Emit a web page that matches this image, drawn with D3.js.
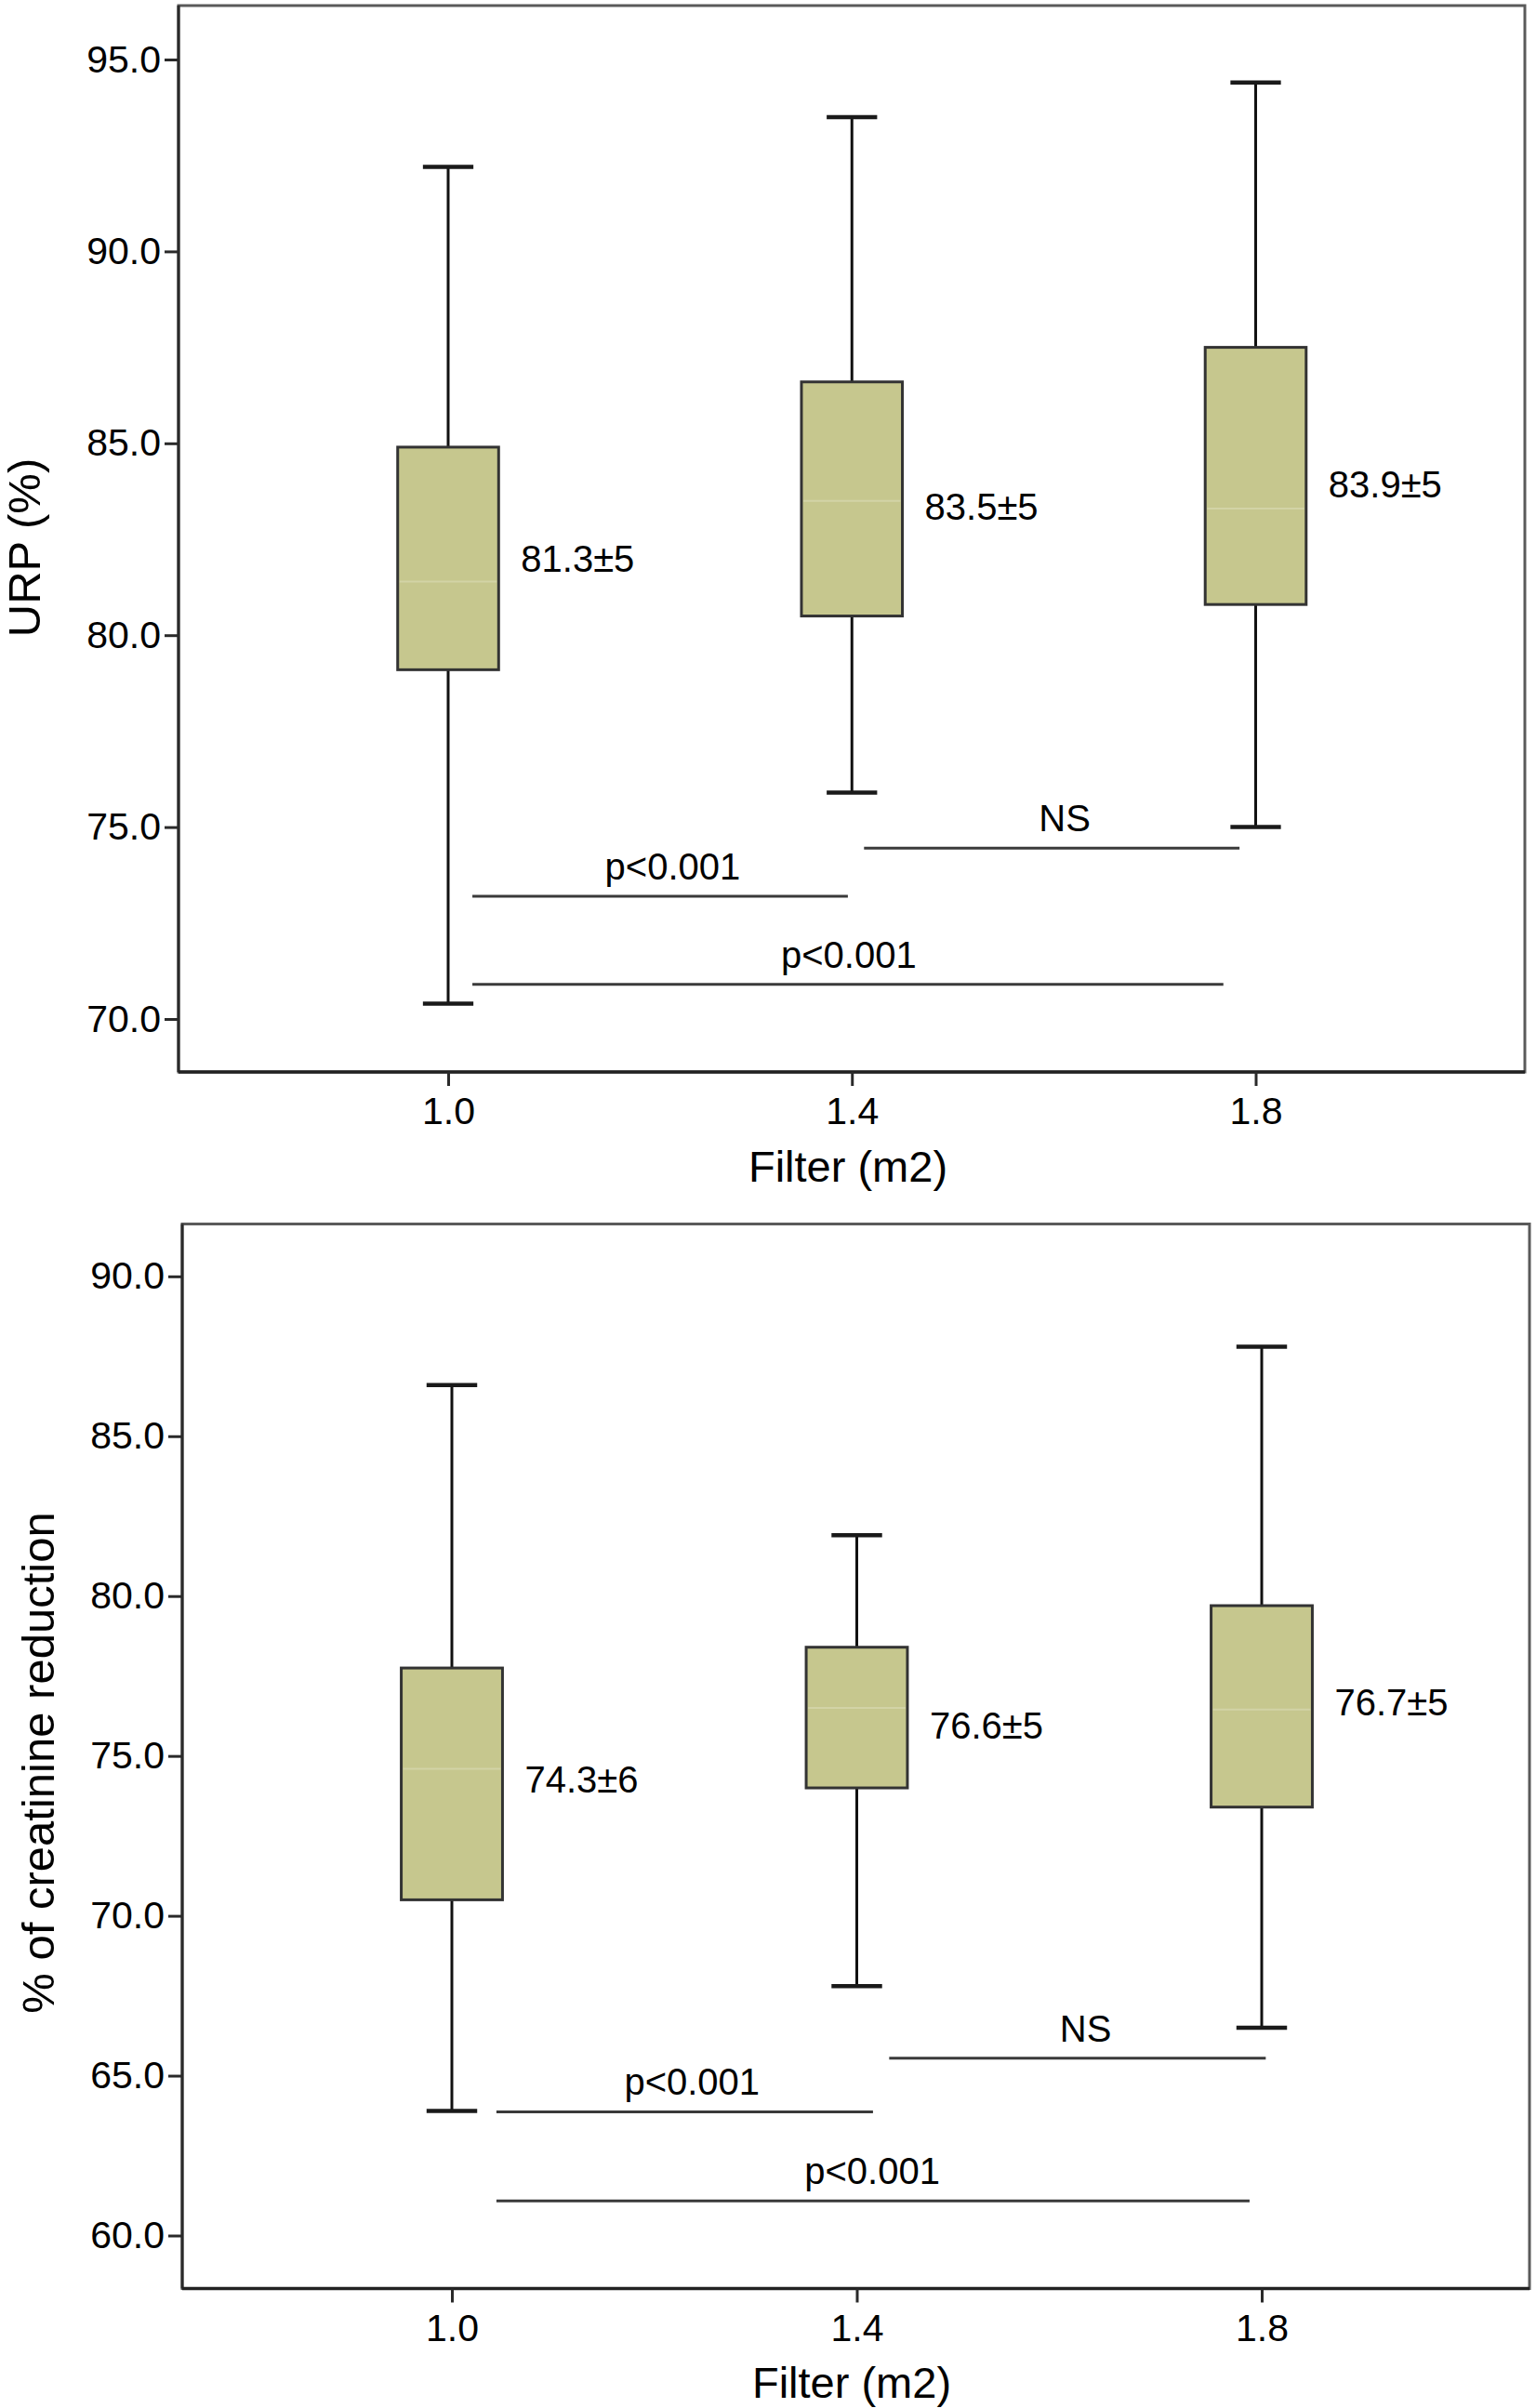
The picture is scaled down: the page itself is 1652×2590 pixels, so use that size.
<!DOCTYPE html>
<html>
<head>
<meta charset="utf-8">
<script src="https://cdn.jsdelivr.net/npm/d3@7/dist/d3.min.js"></script>
<style>
  body { margin: 0; background: #fff; }
  text { font-family: "Liberation Sans", Arial, sans-serif; fill: #000; }
</style>
</head>
<body>
<div id="main"></div>
<script>
// Categories shared by both panels (filter surface)
var filters = ["1.0", "1.4", "1.8"];

// Panel 1: URP (%)
var urpLow = [70.4, 75.9, 75.0];
var urpQ1 = [79.1, 80.5, 80.8];
var urpMedian = [81.4, 83.5, 83.3];
var urpQ3 = [84.9, 86.6, 87.5];
var urpHigh = [92.2, 93.5, 94.4];
var urpLabels = ["81.3\u00b15", "83.5\u00b15", "83.9\u00b15"];
var urpLabelAt = [82.0, 83.35, 83.95];
var urpTicks = [70, 75, 80, 85, 90, 95];
var urpCompFrom = [0.06, 1.03, 0.06];
var urpCompTo = [0.99, 1.96, 1.92];
var urpCompAt = [73.2, 74.45, 70.9];
var urpCompTextAt = [0.556, 1.527, 0.992];
var urpCompText = ["p<0.001", "NS", "p<0.001"];

// Panel 2: % of creatinine reduction
var crLow = [63.9, 67.8, 66.5];
var crQ1 = [70.5, 74.0, 73.4];
var crMedian = [74.6, 76.5, 76.45];
var crQ3 = [77.75, 78.4, 79.7];
var crHigh = [86.6, 81.9, 87.8];
var crLabels = ["74.3\u00b16", "76.6\u00b15", "76.7\u00b15"];
var crLabelAt = [74.26, 75.95, 76.7];
var crTicks = [60, 65, 70, 75, 80, 85, 90];
var crCompFrom = [0.11, 1.08, 0.11];
var crCompTo = [1.04, 2.01, 1.97];
var crCompAt = [63.87, 65.55, 61.08];
var crCompTextAt = [0.593, 1.565, 1.038];
var crCompText = ["p<0.001", "NS", "p<0.001"];

var boxFill = "#c6c78e";

var svg = d3.select("#main").append("svg")
  .attr("width", 1652)
  .attr("height", 2590);

/**
* Draws one boxplot panel with its frame, axes, boxes and comparison bars
**/
function drawPanel(p) {
  var g = svg.append("g");

  // Scales: category index on x, value on y
  var x = d3.scaleLinear().domain([0, 2]).range(p.xRange);
  var y = d3.scaleLinear().domain(p.yDomain).range(p.yRange);
  var step = x(1) - x(0);
  var boxW = step * 0.25;
  var capW = step * 0.125;

  // Frame (top and right lighter, axes darker)
  g.append("rect")
    .attr("x", p.frame.left).attr("y", p.frame.top)
    .attr("width", p.frame.right - p.frame.left)
    .attr("height", p.frame.bottom - p.frame.top)
    .attr("fill", "none").attr("stroke", "#5a5a5a").attr("stroke-width", 3);
  g.append("line")
    .attr("x1", p.frame.left).attr("x2", p.frame.left)
    .attr("y1", p.frame.top).attr("y2", p.frame.bottom)
    .attr("stroke", "#2a2a2a").attr("stroke-width", 3);
  g.append("line")
    .attr("x1", p.frame.left).attr("x2", p.frame.right)
    .attr("y1", p.frame.bottom).attr("y2", p.frame.bottom)
    .attr("stroke", "#222").attr("stroke-width", 3.5);

  // Y axis
  var yAxis = g.append("g")
    .attr("transform", "translate(" + p.frame.left + ",0)")
    .call(d3.axisLeft(y).tickValues(p.ticks).tickFormat(d3.format(".1f"))
      .tickSize(15).tickPadding(4));
  yAxis.select(".domain").remove();
  yAxis.selectAll(".tick line").attr("stroke", "#2a2a2a").attr("stroke-width", 3);
  yAxis.selectAll(".tick text").style("font-size", "41px")
    .style("font-family", "'Liberation Sans', Arial, sans-serif").attr("fill", "#000");

  // X axis
  var xAxis = g.append("g")
    .attr("transform", "translate(0," + p.frame.bottom + ")")
    .call(d3.axisBottom(x).tickValues([0, 1, 2])
      .tickFormat(function(i) { return filters[i]; })
      .tickSize(15).tickPadding(12));
  xAxis.select(".domain").remove();
  xAxis.selectAll(".tick line").attr("stroke", "#2a2a2a").attr("stroke-width", 3);
  xAxis.selectAll(".tick text").style("font-size", "41px")
    .style("font-family", "'Liberation Sans', Arial, sans-serif").attr("fill", "#000");

  // Axis titles
  g.append("text")
    .attr("x", p.xTitleX).attr("y", p.xTitleY)
    .attr("text-anchor", "middle")
    .style("font-size", "47px")
    .text("Filter (m2)");
  g.append("text")
    .attr("transform", "translate(" + p.yTitleX + "," + p.yTitleY + ") rotate(-90)")
    .attr("text-anchor", "middle")
    .style("font-size", "49px")
    .text(p.yTitle);

  // Boxes
  filters.forEach(function(f, i) {
    var cx = x(i);

    // Whiskers
    g.append("line")
      .attr("x1", cx).attr("x2", cx)
      .attr("y1", y(p.high[i])).attr("y2", y(p.q3[i]))
      .attr("stroke", "#111").attr("stroke-width", 3);
    g.append("line")
      .attr("x1", cx).attr("x2", cx)
      .attr("y1", y(p.q1[i])).attr("y2", y(p.low[i]))
      .attr("stroke", "#111").attr("stroke-width", 3);

    // Whisker caps
    [p.high[i], p.low[i]].forEach(function(v) {
      g.append("line")
        .attr("x1", cx - capW / 2).attr("x2", cx + capW / 2)
        .attr("y1", y(v)).attr("y2", y(v))
        .attr("stroke", "#1a1a1a").attr("stroke-width", 4.5);
    });

    // Box from Q1 to Q3
    g.append("rect")
      .attr("x", cx - boxW / 2)
      .attr("y", y(p.q3[i]))
      .attr("width", boxW)
      .attr("height", y(p.q1[i]) - y(p.q3[i]))
      .attr("fill", boxFill)
      .attr("stroke", "#333").attr("stroke-width", 3);

    // Median (faint light line, as in the original)
    g.append("line")
      .attr("x1", cx - boxW / 2 + 2).attr("x2", cx + boxW / 2 - 2)
      .attr("y1", y(p.median[i])).attr("y2", y(p.median[i]))
      .attr("stroke", "#ffffff").attr("stroke-opacity", 0.22).attr("stroke-width", 2);

    // Mean ± SD label
    g.append("text")
      .attr("x", cx + boxW / 2 + 24)
      .attr("y", y(p.labelAt[i]))
      .attr("dy", "0.36em")
      .style("font-size", "40px")
      .text(p.labels[i]);
  });

  // Comparison bars
  p.compText.forEach(function(t, i) {
    var yy = y(p.compAt[i]);
    g.append("line")
      .attr("x1", x(p.compFrom[i])).attr("x2", x(p.compTo[i]))
      .attr("y1", yy).attr("y2", yy)
      .attr("stroke", "#3a3a3a").attr("stroke-width", 3);
    g.append("text")
      .attr("x", x(p.compTextAt[i]))
      .attr("y", yy - 18)
      .attr("text-anchor", "middle")
      .style("font-size", "40px")
      .text(t);
  });
}

// Upper panel
drawPanel({
  frame: { left: 192, right: 1640, top: 6, bottom: 1153 },
  xRange: [482, 1350.5],
  yDomain: [70, 95], yRange: [1096, 64],
  ticks: urpTicks,
  low: urpLow, q1: urpQ1, median: urpMedian, q3: urpQ3, high: urpHigh,
  labels: urpLabels, labelAt: urpLabelAt,
  compFrom: urpCompFrom, compTo: urpCompTo, compAt: urpCompAt,
  compTextAt: urpCompTextAt, compText: urpCompText,
  xTitleX: 912, xTitleY: 1271,
  yTitle: "URP (%)", yTitleX: 43, yTitleY: 589
});

// Lower panel
drawPanel({
  frame: { left: 196, right: 1645, top: 1316.5, bottom: 2461.5 },
  xRange: [486, 1357],
  yDomain: [60, 90], yRange: [2404.5, 1372.8],
  ticks: crTicks,
  low: crLow, q1: crQ1, median: crMedian, q3: crQ3, high: crHigh,
  labels: crLabels, labelAt: crLabelAt,
  compFrom: crCompFrom, compTo: crCompTo, compAt: crCompAt,
  compTextAt: crCompTextAt, compText: crCompText,
  xTitleX: 916, xTitleY: 2579,
  yTitle: "% of creatinine reduction", yTitleX: 58, yTitleY: 1896
});
</script>
</body>
</html>
